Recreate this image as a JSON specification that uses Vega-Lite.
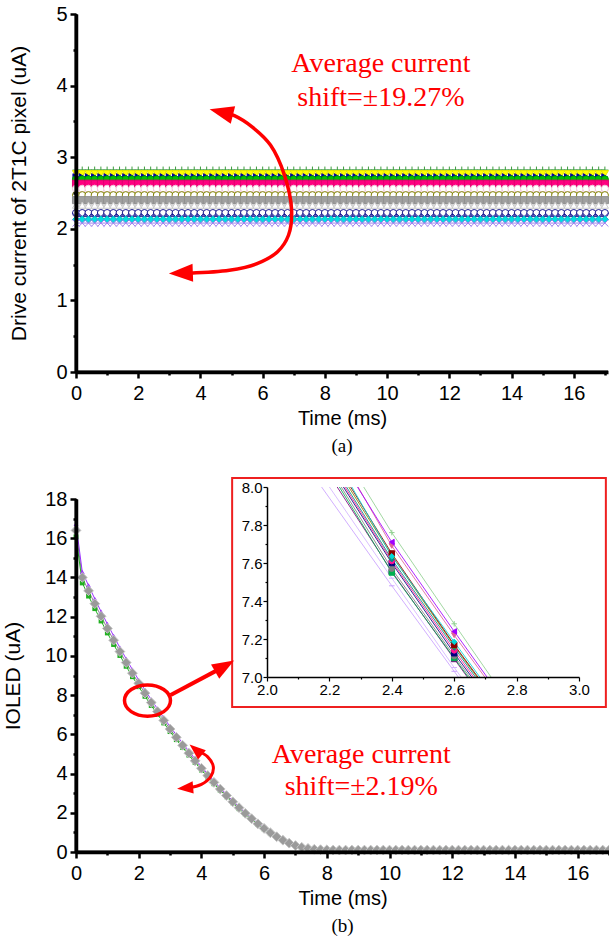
{
  "$schema": "https://vega.github.io/schema/vega-lite/v6.json",
  "background": "white",
  "padding": {"left": 2, "top": 4, "right": 0, "bottom": 0},
  "config": {"view": {"stroke": null}, "axis": {"domainColor": "#000000", "tickColor": "#000000", "domainWidth": 3.5, "tickWidth": 2.5}},
  "datasets": {
    "sa": [
      {"t":0,"a":2.82,"b":2.77,"c":2.72,"d":2.69,"e":2.63,"f":2.56,"g":2.47,"h":2.4,"i":2.33,"j":2.22,"k":2.17,"l":2.13,"m":2.08},
      {"t":0.2,"a":2.82,"b":2.77,"c":2.72,"d":2.69,"e":2.63,"f":2.56,"g":2.47,"h":2.4,"i":2.33,"j":2.22,"k":2.17,"l":2.13,"m":2.08},
      {"t":0.4,"a":2.82,"b":2.77,"c":2.72,"d":2.69,"e":2.63,"f":2.56,"g":2.47,"h":2.4,"i":2.33,"j":2.22,"k":2.17,"l":2.13,"m":2.08},
      {"t":0.6,"a":2.82,"b":2.77,"c":2.72,"d":2.69,"e":2.63,"f":2.56,"g":2.47,"h":2.4,"i":2.33,"j":2.22,"k":2.17,"l":2.13,"m":2.08},
      {"t":0.8,"a":2.82,"b":2.77,"c":2.72,"d":2.69,"e":2.63,"f":2.56,"g":2.47,"h":2.4,"i":2.33,"j":2.22,"k":2.17,"l":2.13,"m":2.08},
      {"t":1,"a":2.82,"b":2.77,"c":2.72,"d":2.69,"e":2.63,"f":2.56,"g":2.47,"h":2.4,"i":2.33,"j":2.22,"k":2.17,"l":2.13,"m":2.08},
      {"t":1.2,"a":2.82,"b":2.77,"c":2.72,"d":2.69,"e":2.63,"f":2.56,"g":2.47,"h":2.4,"i":2.33,"j":2.22,"k":2.17,"l":2.13,"m":2.08},
      {"t":1.4,"a":2.82,"b":2.77,"c":2.72,"d":2.69,"e":2.63,"f":2.56,"g":2.47,"h":2.4,"i":2.33,"j":2.22,"k":2.17,"l":2.13,"m":2.08},
      {"t":1.6,"a":2.82,"b":2.77,"c":2.72,"d":2.69,"e":2.63,"f":2.56,"g":2.47,"h":2.4,"i":2.33,"j":2.22,"k":2.17,"l":2.13,"m":2.08},
      {"t":1.8,"a":2.82,"b":2.77,"c":2.72,"d":2.69,"e":2.63,"f":2.56,"g":2.47,"h":2.4,"i":2.33,"j":2.22,"k":2.17,"l":2.13,"m":2.08},
      {"t":2,"a":2.82,"b":2.77,"c":2.72,"d":2.69,"e":2.63,"f":2.56,"g":2.47,"h":2.4,"i":2.33,"j":2.22,"k":2.17,"l":2.13,"m":2.08},
      {"t":2.2,"a":2.82,"b":2.77,"c":2.72,"d":2.69,"e":2.63,"f":2.56,"g":2.47,"h":2.4,"i":2.33,"j":2.22,"k":2.17,"l":2.13,"m":2.08},
      {"t":2.4,"a":2.82,"b":2.77,"c":2.72,"d":2.69,"e":2.63,"f":2.56,"g":2.47,"h":2.4,"i":2.33,"j":2.22,"k":2.17,"l":2.13,"m":2.08},
      {"t":2.6,"a":2.82,"b":2.77,"c":2.72,"d":2.69,"e":2.63,"f":2.56,"g":2.47,"h":2.4,"i":2.33,"j":2.22,"k":2.17,"l":2.13,"m":2.08},
      {"t":2.8,"a":2.82,"b":2.77,"c":2.72,"d":2.69,"e":2.63,"f":2.56,"g":2.47,"h":2.4,"i":2.33,"j":2.22,"k":2.17,"l":2.13,"m":2.08},
      {"t":3,"a":2.82,"b":2.77,"c":2.72,"d":2.69,"e":2.63,"f":2.56,"g":2.47,"h":2.4,"i":2.33,"j":2.22,"k":2.17,"l":2.13,"m":2.08},
      {"t":3.2,"a":2.82,"b":2.77,"c":2.72,"d":2.69,"e":2.63,"f":2.56,"g":2.47,"h":2.4,"i":2.33,"j":2.22,"k":2.17,"l":2.13,"m":2.08},
      {"t":3.4,"a":2.82,"b":2.77,"c":2.72,"d":2.69,"e":2.63,"f":2.56,"g":2.47,"h":2.4,"i":2.33,"j":2.22,"k":2.17,"l":2.13,"m":2.08},
      {"t":3.6,"a":2.82,"b":2.77,"c":2.72,"d":2.69,"e":2.63,"f":2.56,"g":2.47,"h":2.4,"i":2.33,"j":2.22,"k":2.17,"l":2.13,"m":2.08},
      {"t":3.8,"a":2.82,"b":2.77,"c":2.72,"d":2.69,"e":2.63,"f":2.56,"g":2.47,"h":2.4,"i":2.33,"j":2.22,"k":2.17,"l":2.13,"m":2.08},
      {"t":4,"a":2.82,"b":2.77,"c":2.72,"d":2.69,"e":2.63,"f":2.56,"g":2.47,"h":2.4,"i":2.33,"j":2.22,"k":2.17,"l":2.13,"m":2.08},
      {"t":4.2,"a":2.82,"b":2.77,"c":2.72,"d":2.69,"e":2.63,"f":2.56,"g":2.47,"h":2.4,"i":2.33,"j":2.22,"k":2.17,"l":2.13,"m":2.08},
      {"t":4.4,"a":2.82,"b":2.77,"c":2.72,"d":2.69,"e":2.63,"f":2.56,"g":2.47,"h":2.4,"i":2.33,"j":2.22,"k":2.17,"l":2.13,"m":2.08},
      {"t":4.6,"a":2.82,"b":2.77,"c":2.72,"d":2.69,"e":2.63,"f":2.56,"g":2.47,"h":2.4,"i":2.33,"j":2.22,"k":2.17,"l":2.13,"m":2.08},
      {"t":4.8,"a":2.82,"b":2.77,"c":2.72,"d":2.69,"e":2.63,"f":2.56,"g":2.47,"h":2.4,"i":2.33,"j":2.22,"k":2.17,"l":2.13,"m":2.08},
      {"t":5,"a":2.82,"b":2.77,"c":2.72,"d":2.69,"e":2.63,"f":2.56,"g":2.47,"h":2.4,"i":2.33,"j":2.22,"k":2.17,"l":2.13,"m":2.08},
      {"t":5.2,"a":2.82,"b":2.77,"c":2.72,"d":2.69,"e":2.63,"f":2.56,"g":2.47,"h":2.4,"i":2.33,"j":2.22,"k":2.17,"l":2.13,"m":2.08},
      {"t":5.4,"a":2.82,"b":2.77,"c":2.72,"d":2.69,"e":2.63,"f":2.56,"g":2.47,"h":2.4,"i":2.33,"j":2.22,"k":2.17,"l":2.13,"m":2.08},
      {"t":5.6,"a":2.82,"b":2.77,"c":2.72,"d":2.69,"e":2.63,"f":2.56,"g":2.47,"h":2.4,"i":2.33,"j":2.22,"k":2.17,"l":2.13,"m":2.08},
      {"t":5.8,"a":2.82,"b":2.77,"c":2.72,"d":2.69,"e":2.63,"f":2.56,"g":2.47,"h":2.4,"i":2.33,"j":2.22,"k":2.17,"l":2.13,"m":2.08},
      {"t":6,"a":2.82,"b":2.77,"c":2.72,"d":2.69,"e":2.63,"f":2.56,"g":2.47,"h":2.4,"i":2.33,"j":2.22,"k":2.17,"l":2.13,"m":2.08},
      {"t":6.2,"a":2.82,"b":2.77,"c":2.72,"d":2.69,"e":2.63,"f":2.56,"g":2.47,"h":2.4,"i":2.33,"j":2.22,"k":2.17,"l":2.13,"m":2.08},
      {"t":6.4,"a":2.82,"b":2.77,"c":2.72,"d":2.69,"e":2.63,"f":2.56,"g":2.47,"h":2.4,"i":2.33,"j":2.22,"k":2.17,"l":2.13,"m":2.08},
      {"t":6.6,"a":2.82,"b":2.77,"c":2.72,"d":2.69,"e":2.63,"f":2.56,"g":2.47,"h":2.4,"i":2.33,"j":2.22,"k":2.17,"l":2.13,"m":2.08},
      {"t":6.8,"a":2.82,"b":2.77,"c":2.72,"d":2.69,"e":2.63,"f":2.56,"g":2.47,"h":2.4,"i":2.33,"j":2.22,"k":2.17,"l":2.13,"m":2.08},
      {"t":7,"a":2.82,"b":2.77,"c":2.72,"d":2.69,"e":2.63,"f":2.56,"g":2.47,"h":2.4,"i":2.33,"j":2.22,"k":2.17,"l":2.13,"m":2.08},
      {"t":7.2,"a":2.82,"b":2.77,"c":2.72,"d":2.69,"e":2.63,"f":2.56,"g":2.47,"h":2.4,"i":2.33,"j":2.22,"k":2.17,"l":2.13,"m":2.08},
      {"t":7.4,"a":2.82,"b":2.77,"c":2.72,"d":2.69,"e":2.63,"f":2.56,"g":2.47,"h":2.4,"i":2.33,"j":2.22,"k":2.17,"l":2.13,"m":2.08},
      {"t":7.6,"a":2.82,"b":2.77,"c":2.72,"d":2.69,"e":2.63,"f":2.56,"g":2.47,"h":2.4,"i":2.33,"j":2.22,"k":2.17,"l":2.13,"m":2.08},
      {"t":7.8,"a":2.82,"b":2.77,"c":2.72,"d":2.69,"e":2.63,"f":2.56,"g":2.47,"h":2.4,"i":2.33,"j":2.22,"k":2.17,"l":2.13,"m":2.08},
      {"t":8,"a":2.82,"b":2.77,"c":2.72,"d":2.69,"e":2.63,"f":2.56,"g":2.47,"h":2.4,"i":2.33,"j":2.22,"k":2.17,"l":2.13,"m":2.08},
      {"t":8.2,"a":2.82,"b":2.77,"c":2.72,"d":2.69,"e":2.63,"f":2.56,"g":2.47,"h":2.4,"i":2.33,"j":2.22,"k":2.17,"l":2.13,"m":2.08},
      {"t":8.4,"a":2.82,"b":2.77,"c":2.72,"d":2.69,"e":2.63,"f":2.56,"g":2.47,"h":2.4,"i":2.33,"j":2.22,"k":2.17,"l":2.13,"m":2.08},
      {"t":8.6,"a":2.82,"b":2.77,"c":2.72,"d":2.69,"e":2.63,"f":2.56,"g":2.47,"h":2.4,"i":2.33,"j":2.22,"k":2.17,"l":2.13,"m":2.08},
      {"t":8.8,"a":2.82,"b":2.77,"c":2.72,"d":2.69,"e":2.63,"f":2.56,"g":2.47,"h":2.4,"i":2.33,"j":2.22,"k":2.17,"l":2.13,"m":2.08},
      {"t":9,"a":2.82,"b":2.77,"c":2.72,"d":2.69,"e":2.63,"f":2.56,"g":2.47,"h":2.4,"i":2.33,"j":2.22,"k":2.17,"l":2.13,"m":2.08},
      {"t":9.2,"a":2.82,"b":2.77,"c":2.72,"d":2.69,"e":2.63,"f":2.56,"g":2.47,"h":2.4,"i":2.33,"j":2.22,"k":2.17,"l":2.13,"m":2.08},
      {"t":9.4,"a":2.82,"b":2.77,"c":2.72,"d":2.69,"e":2.63,"f":2.56,"g":2.47,"h":2.4,"i":2.33,"j":2.22,"k":2.17,"l":2.13,"m":2.08},
      {"t":9.6,"a":2.82,"b":2.77,"c":2.72,"d":2.69,"e":2.63,"f":2.56,"g":2.47,"h":2.4,"i":2.33,"j":2.22,"k":2.17,"l":2.13,"m":2.08},
      {"t":9.8,"a":2.82,"b":2.77,"c":2.72,"d":2.69,"e":2.63,"f":2.56,"g":2.47,"h":2.4,"i":2.33,"j":2.22,"k":2.17,"l":2.13,"m":2.08},
      {"t":10,"a":2.82,"b":2.77,"c":2.72,"d":2.69,"e":2.63,"f":2.56,"g":2.47,"h":2.4,"i":2.33,"j":2.22,"k":2.17,"l":2.13,"m":2.08},
      {"t":10.2,"a":2.82,"b":2.77,"c":2.72,"d":2.69,"e":2.63,"f":2.56,"g":2.47,"h":2.4,"i":2.33,"j":2.22,"k":2.17,"l":2.13,"m":2.08},
      {"t":10.4,"a":2.82,"b":2.77,"c":2.72,"d":2.69,"e":2.63,"f":2.56,"g":2.47,"h":2.4,"i":2.33,"j":2.22,"k":2.17,"l":2.13,"m":2.08},
      {"t":10.6,"a":2.82,"b":2.77,"c":2.72,"d":2.69,"e":2.63,"f":2.56,"g":2.47,"h":2.4,"i":2.33,"j":2.22,"k":2.17,"l":2.13,"m":2.08},
      {"t":10.8,"a":2.82,"b":2.77,"c":2.72,"d":2.69,"e":2.63,"f":2.56,"g":2.47,"h":2.4,"i":2.33,"j":2.22,"k":2.17,"l":2.13,"m":2.08},
      {"t":11,"a":2.82,"b":2.77,"c":2.72,"d":2.69,"e":2.63,"f":2.56,"g":2.47,"h":2.4,"i":2.33,"j":2.22,"k":2.17,"l":2.13,"m":2.08},
      {"t":11.2,"a":2.82,"b":2.77,"c":2.72,"d":2.69,"e":2.63,"f":2.56,"g":2.47,"h":2.4,"i":2.33,"j":2.22,"k":2.17,"l":2.13,"m":2.08},
      {"t":11.4,"a":2.82,"b":2.77,"c":2.72,"d":2.69,"e":2.63,"f":2.56,"g":2.47,"h":2.4,"i":2.33,"j":2.22,"k":2.17,"l":2.13,"m":2.08},
      {"t":11.6,"a":2.82,"b":2.77,"c":2.72,"d":2.69,"e":2.63,"f":2.56,"g":2.47,"h":2.4,"i":2.33,"j":2.22,"k":2.17,"l":2.13,"m":2.08},
      {"t":11.8,"a":2.82,"b":2.77,"c":2.72,"d":2.69,"e":2.63,"f":2.56,"g":2.47,"h":2.4,"i":2.33,"j":2.22,"k":2.17,"l":2.13,"m":2.08},
      {"t":12,"a":2.82,"b":2.77,"c":2.72,"d":2.69,"e":2.63,"f":2.56,"g":2.47,"h":2.4,"i":2.33,"j":2.22,"k":2.17,"l":2.13,"m":2.08},
      {"t":12.2,"a":2.82,"b":2.77,"c":2.72,"d":2.69,"e":2.63,"f":2.56,"g":2.47,"h":2.4,"i":2.33,"j":2.22,"k":2.17,"l":2.13,"m":2.08},
      {"t":12.4,"a":2.82,"b":2.77,"c":2.72,"d":2.69,"e":2.63,"f":2.56,"g":2.47,"h":2.4,"i":2.33,"j":2.22,"k":2.17,"l":2.13,"m":2.08},
      {"t":12.6,"a":2.82,"b":2.77,"c":2.72,"d":2.69,"e":2.63,"f":2.56,"g":2.47,"h":2.4,"i":2.33,"j":2.22,"k":2.17,"l":2.13,"m":2.08},
      {"t":12.8,"a":2.82,"b":2.77,"c":2.72,"d":2.69,"e":2.63,"f":2.56,"g":2.47,"h":2.4,"i":2.33,"j":2.22,"k":2.17,"l":2.13,"m":2.08},
      {"t":13,"a":2.82,"b":2.77,"c":2.72,"d":2.69,"e":2.63,"f":2.56,"g":2.47,"h":2.4,"i":2.33,"j":2.22,"k":2.17,"l":2.13,"m":2.08},
      {"t":13.2,"a":2.82,"b":2.77,"c":2.72,"d":2.69,"e":2.63,"f":2.56,"g":2.47,"h":2.4,"i":2.33,"j":2.22,"k":2.17,"l":2.13,"m":2.08},
      {"t":13.4,"a":2.82,"b":2.77,"c":2.72,"d":2.69,"e":2.63,"f":2.56,"g":2.47,"h":2.4,"i":2.33,"j":2.22,"k":2.17,"l":2.13,"m":2.08},
      {"t":13.6,"a":2.82,"b":2.77,"c":2.72,"d":2.69,"e":2.63,"f":2.56,"g":2.47,"h":2.4,"i":2.33,"j":2.22,"k":2.17,"l":2.13,"m":2.08},
      {"t":13.8,"a":2.82,"b":2.77,"c":2.72,"d":2.69,"e":2.63,"f":2.56,"g":2.47,"h":2.4,"i":2.33,"j":2.22,"k":2.17,"l":2.13,"m":2.08},
      {"t":14,"a":2.82,"b":2.77,"c":2.72,"d":2.69,"e":2.63,"f":2.56,"g":2.47,"h":2.4,"i":2.33,"j":2.22,"k":2.17,"l":2.13,"m":2.08},
      {"t":14.2,"a":2.82,"b":2.77,"c":2.72,"d":2.69,"e":2.63,"f":2.56,"g":2.47,"h":2.4,"i":2.33,"j":2.22,"k":2.17,"l":2.13,"m":2.08},
      {"t":14.4,"a":2.82,"b":2.77,"c":2.72,"d":2.69,"e":2.63,"f":2.56,"g":2.47,"h":2.4,"i":2.33,"j":2.22,"k":2.17,"l":2.13,"m":2.08},
      {"t":14.6,"a":2.82,"b":2.77,"c":2.72,"d":2.69,"e":2.63,"f":2.56,"g":2.47,"h":2.4,"i":2.33,"j":2.22,"k":2.17,"l":2.13,"m":2.08},
      {"t":14.8,"a":2.82,"b":2.77,"c":2.72,"d":2.69,"e":2.63,"f":2.56,"g":2.47,"h":2.4,"i":2.33,"j":2.22,"k":2.17,"l":2.13,"m":2.08},
      {"t":15,"a":2.82,"b":2.77,"c":2.72,"d":2.69,"e":2.63,"f":2.56,"g":2.47,"h":2.4,"i":2.33,"j":2.22,"k":2.17,"l":2.13,"m":2.08},
      {"t":15.2,"a":2.82,"b":2.77,"c":2.72,"d":2.69,"e":2.63,"f":2.56,"g":2.47,"h":2.4,"i":2.33,"j":2.22,"k":2.17,"l":2.13,"m":2.08},
      {"t":15.4,"a":2.82,"b":2.77,"c":2.72,"d":2.69,"e":2.63,"f":2.56,"g":2.47,"h":2.4,"i":2.33,"j":2.22,"k":2.17,"l":2.13,"m":2.08},
      {"t":15.6,"a":2.82,"b":2.77,"c":2.72,"d":2.69,"e":2.63,"f":2.56,"g":2.47,"h":2.4,"i":2.33,"j":2.22,"k":2.17,"l":2.13,"m":2.08},
      {"t":15.8,"a":2.82,"b":2.77,"c":2.72,"d":2.69,"e":2.63,"f":2.56,"g":2.47,"h":2.4,"i":2.33,"j":2.22,"k":2.17,"l":2.13,"m":2.08},
      {"t":16,"a":2.82,"b":2.77,"c":2.72,"d":2.69,"e":2.63,"f":2.56,"g":2.47,"h":2.4,"i":2.33,"j":2.22,"k":2.17,"l":2.13,"m":2.08},
      {"t":16.2,"a":2.82,"b":2.77,"c":2.72,"d":2.69,"e":2.63,"f":2.56,"g":2.47,"h":2.4,"i":2.33,"j":2.22,"k":2.17,"l":2.13,"m":2.08},
      {"t":16.4,"a":2.82,"b":2.77,"c":2.72,"d":2.69,"e":2.63,"f":2.56,"g":2.47,"h":2.4,"i":2.33,"j":2.22,"k":2.17,"l":2.13,"m":2.08},
      {"t":16.6,"a":2.82,"b":2.77,"c":2.72,"d":2.69,"e":2.63,"f":2.56,"g":2.47,"h":2.4,"i":2.33,"j":2.22,"k":2.17,"l":2.13,"m":2.08},
      {"t":16.8,"a":2.82,"b":2.77,"c":2.72,"d":2.69,"e":2.63,"f":2.56,"g":2.47,"h":2.4,"i":2.33,"j":2.22,"k":2.17,"l":2.13,"m":2.08},
      {"t":17,"a":2.82,"b":2.77,"c":2.72,"d":2.69,"e":2.63,"f":2.56,"g":2.47,"h":2.4,"i":2.33,"j":2.22,"k":2.17,"l":2.13,"m":2.08}
    ],
    "sb": [
      {"t":0,"g":16.4,"hi":16.73,"lo":16.07},
      {"t":0.2,"g":14.0,"hi":14.28,"lo":13.72},
      {"t":0.4,"g":13.32,"hi":13.59,"lo":13.05},
      {"t":0.6,"g":12.66,"hi":12.91,"lo":12.41},
      {"t":0.8,"g":12.02,"hi":12.26,"lo":11.78},
      {"t":1,"g":11.4,"hi":11.63,"lo":11.17},
      {"t":1.2,"g":10.8,"hi":11.02,"lo":10.58},
      {"t":1.4,"g":10.22,"hi":10.42,"lo":10.02},
      {"t":1.6,"g":9.66,"hi":9.85,"lo":9.47},
      {"t":1.8,"g":9.12,"hi":9.3,"lo":8.94},
      {"t":2,"g":8.6,"hi":8.77,"lo":8.43},
      {"t":2.2,"g":8.1,"hi":8.26,"lo":7.94},
      {"t":2.4,"g":7.62,"hi":7.77,"lo":7.47},
      {"t":2.6,"g":7.16,"hi":7.3,"lo":7.02},
      {"t":2.8,"g":6.71,"hi":6.84,"lo":6.58},
      {"t":3,"g":6.27,"hi":6.4,"lo":6.14},
      {"t":3.2,"g":5.85,"hi":5.97,"lo":5.73},
      {"t":3.4,"g":5.44,"hi":5.55,"lo":5.33},
      {"t":3.6,"g":5.04,"hi":5.14,"lo":4.94},
      {"t":3.8,"g":4.65,"hi":4.74,"lo":4.56},
      {"t":4,"g":4.27,"hi":4.36,"lo":4.18},
      {"t":4.2,"g":3.9,"hi":3.98,"lo":3.82},
      {"t":4.4,"g":3.55,"hi":3.62,"lo":3.48},
      {"t":4.6,"g":3.21,"hi":3.27,"lo":3.15},
      {"t":4.8,"g":2.88,"hi":2.94,"lo":2.82},
      {"t":5,"g":2.56,"hi":2.61,"lo":2.51},
      {"t":5.2,"g":2.26,"hi":2.31,"lo":2.21},
      {"t":5.4,"g":1.97,"hi":2.01,"lo":1.93},
      {"t":5.6,"g":1.7,"hi":1.73,"lo":1.67},
      {"t":5.8,"g":1.44,"hi":1.47,"lo":1.41},
      {"t":6,"g":1.2,"hi":1.22,"lo":1.18},
      {"t":6.2,"g":0.98,"hi":1.0,"lo":0.96},
      {"t":6.4,"g":0.78,"hi":0.8,"lo":0.76},
      {"t":6.6,"g":0.6,"hi":0.61,"lo":0.59},
      {"t":6.8,"g":0.45,"hi":0.46,"lo":0.44},
      {"t":7,"g":0.33,"hi":0.34,"lo":0.32},
      {"t":7.2,"g":0.24,"hi":0.25,"lo":0.23},
      {"t":7.4,"g":0.18,"hi":0.19,"lo":0.17},
      {"t":7.6,"g":0.14,"hi":0.15,"lo":0.13},
      {"t":7.8,"g":0.12,"hi":0.13,"lo":0.11},
      {"t":8,"g":0.11,"hi":0.12,"lo":0.1},
      {"t":8.2,"g":0.1,"hi":0.11,"lo":0.09},
      {"t":8.4,"g":0.1,"hi":0.11,"lo":0.09},
      {"t":8.6,"g":0.1,"hi":0.11,"lo":0.09},
      {"t":8.8,"g":0.1,"hi":0.11,"lo":0.09},
      {"t":9,"g":0.1,"hi":0.11,"lo":0.09},
      {"t":9.2,"g":0.1,"hi":0.11,"lo":0.09},
      {"t":9.4,"g":0.1,"hi":0.11,"lo":0.09},
      {"t":9.6,"g":0.1,"hi":0.11,"lo":0.09},
      {"t":9.8,"g":0.1,"hi":0.11,"lo":0.09},
      {"t":10,"g":0.1,"hi":0.11,"lo":0.09},
      {"t":10.2,"g":0.1,"hi":0.11,"lo":0.09},
      {"t":10.4,"g":0.1,"hi":0.11,"lo":0.09},
      {"t":10.6,"g":0.1,"hi":0.11,"lo":0.09},
      {"t":10.8,"g":0.1,"hi":0.11,"lo":0.09},
      {"t":11,"g":0.1,"hi":0.11,"lo":0.09},
      {"t":11.2,"g":0.1,"hi":0.11,"lo":0.09},
      {"t":11.4,"g":0.1,"hi":0.11,"lo":0.09},
      {"t":11.6,"g":0.1,"hi":0.11,"lo":0.09},
      {"t":11.8,"g":0.1,"hi":0.11,"lo":0.09},
      {"t":12,"g":0.1,"hi":0.11,"lo":0.09},
      {"t":12.2,"g":0.1,"hi":0.11,"lo":0.09},
      {"t":12.4,"g":0.1,"hi":0.11,"lo":0.09},
      {"t":12.6,"g":0.1,"hi":0.11,"lo":0.09},
      {"t":12.8,"g":0.1,"hi":0.11,"lo":0.09},
      {"t":13,"g":0.1,"hi":0.11,"lo":0.09},
      {"t":13.2,"g":0.1,"hi":0.11,"lo":0.09},
      {"t":13.4,"g":0.1,"hi":0.11,"lo":0.09},
      {"t":13.6,"g":0.1,"hi":0.11,"lo":0.09},
      {"t":13.8,"g":0.1,"hi":0.11,"lo":0.09},
      {"t":14,"g":0.1,"hi":0.11,"lo":0.09},
      {"t":14.2,"g":0.1,"hi":0.11,"lo":0.09},
      {"t":14.4,"g":0.1,"hi":0.11,"lo":0.09},
      {"t":14.6,"g":0.1,"hi":0.11,"lo":0.09},
      {"t":14.8,"g":0.1,"hi":0.11,"lo":0.09},
      {"t":15,"g":0.1,"hi":0.11,"lo":0.09},
      {"t":15.2,"g":0.1,"hi":0.11,"lo":0.09},
      {"t":15.4,"g":0.1,"hi":0.11,"lo":0.09},
      {"t":15.6,"g":0.1,"hi":0.11,"lo":0.09},
      {"t":15.8,"g":0.1,"hi":0.11,"lo":0.09},
      {"t":16,"g":0.1,"hi":0.11,"lo":0.09},
      {"t":16.2,"g":0.1,"hi":0.11,"lo":0.09},
      {"t":16.4,"g":0.1,"hi":0.11,"lo":0.09},
      {"t":16.6,"g":0.1,"hi":0.11,"lo":0.09},
      {"t":16.8,"g":0.1,"hi":0.11,"lo":0.09},
      {"t":17,"g":0.1,"hi":0.11,"lo":0.09}
    ],
    "ins": [
      {"s":"L01","t":2.175,"v":8.0},{"s":"L01","t":2.4,"v":7.48},{"s":"L01","t":2.6,"v":7.03},{"s":"L01","t":2.613,"v":7.0},
      {"s":"L02","t":2.2,"v":8.0},{"s":"L02","t":2.4,"v":7.52},{"s":"L02","t":2.6,"v":7.05},{"s":"L02","t":2.622,"v":7.0},
      {"s":"L03","t":2.225,"v":8.0},{"s":"L03","t":2.4,"v":7.555},{"s":"L03","t":2.6,"v":7.095},{"s":"L03","t":2.642,"v":7.0},
      {"s":"L04","t":2.232,"v":8.0},{"s":"L04","t":2.4,"v":7.55},{"s":"L04","t":2.6,"v":7.1},{"s":"L04","t":2.645,"v":7.0},
      {"s":"L05","t":2.238,"v":8.0},{"s":"L05","t":2.4,"v":7.57},{"s":"L05","t":2.6,"v":7.11},{"s":"L05","t":2.65,"v":7.0},
      {"s":"L06","t":2.245,"v":8.0},{"s":"L06","t":2.4,"v":7.6},{"s":"L06","t":2.6,"v":7.125},{"s":"L06","t":2.656,"v":7.0},
      {"s":"L07","t":2.25,"v":8.0},{"s":"L07","t":2.4,"v":7.61},{"s":"L07","t":2.6,"v":7.14},{"s":"L07","t":2.662,"v":7.0},
      {"s":"L08","t":2.255,"v":8.0},{"s":"L08","t":2.4,"v":7.62},{"s":"L08","t":2.6,"v":7.155},{"s":"L08","t":2.668,"v":7.0},
      {"s":"L09","t":2.262,"v":8.0},{"s":"L09","t":2.4,"v":7.64},{"s":"L09","t":2.6,"v":7.165},{"s":"L09","t":2.673,"v":7.0},
      {"s":"L10","t":2.268,"v":8.0},{"s":"L10","t":2.4,"v":7.65},{"s":"L10","t":2.6,"v":7.17},{"s":"L10","t":2.676,"v":7.0},
      {"s":"L11","t":2.272,"v":8.0},{"s":"L11","t":2.4,"v":7.635},{"s":"L11","t":2.6,"v":7.185},{"s":"L11","t":2.682,"v":7.0},
      {"s":"L12","t":2.292,"v":8.0},{"s":"L12","t":2.4,"v":7.69},{"s":"L12","t":2.6,"v":7.22},{"s":"L12","t":2.698,"v":7.0},
      {"s":"L13","t":2.29,"v":8.0},{"s":"L13","t":2.4,"v":7.71},{"s":"L13","t":2.6,"v":7.24},{"s":"L13","t":2.705,"v":7.0},
      {"s":"L14","t":2.31,"v":8.0},{"s":"L14","t":2.4,"v":7.76},{"s":"L14","t":2.6,"v":7.28},{"s":"L14","t":2.718,"v":7.0}
    ]
  },
  "spacing": 21,
  "vconcat": [
    {
      "width": 532,
      "height": 358,
      "title": {"text": "(a)", "orient": "bottom", "font": "Liberation Serif", "fontSize": 19, "fontWeight": "normal", "offset": 9, "color": "black"},
      "encoding": {
        "x": {"field": "t", "type": "quantitative", "scale": {"domain": [0, 17.1], "nice": false, "zero": false},
          "axis": {"title": "Time (ms)", "zindex": 2, "values": [0,1,2,3,4,5,6,7,8,9,10,11,12,13,14,15,16,17], "labelExpr": "datum.value % 2 === 0 ? format(datum.value, 'd') : ''", "tickSize": {"condition": {"test": "datum.value % 2 !== 0", "value": 3}, "value": 6}, "labelFlush": false, "labelOverlap": false, "titlePadding": 5, "labelPadding": 5, "domainColor": "#000000", "domainWidth": 3.5, "tickColor": "#000000", "tickWidth": 2.5, "labelColor": "black", "titleColor": "black", "labelFont": "Liberation Sans", "titleFont": "Liberation Sans", "labelFontSize": 20, "titleFontSize": 20, "titleFontWeight": "normal", "grid": false}},
        "y": {"field": "v", "type": "quantitative", "scale": {"domain": [0, 5], "nice": false},
          "axis": {"title": "Drive current of 2T1C pixel (uA)", "zindex": 2, "values": [0,0.5,1,1.5,2,2.5,3,3.5,4,4.5,5], "labelExpr": "datum.value % 1 === 0 ? format(datum.value, 'd') : ''", "tickSize": {"condition": {"test": "datum.value % 1 !== 0", "value": 3}, "value": 6}, "labelOverlap": false, "titlePadding": 26, "labelPadding": 3, "domainColor": "#000000", "domainWidth": 3.5, "tickColor": "#000000", "tickWidth": 2.5, "labelColor": "black", "titleColor": "black", "labelFont": "Liberation Sans", "titleFont": "Liberation Sans", "labelFontSize": 20, "titleFontSize": 21, "titleFontWeight": "normal", "grid": false}}
      },
      "layer": [
        {
          "data": {"name": "sa"},
          "transform": [{"fold": ["a","b","c","d","e","f","g","h","i","j","k","l","m"], "as": ["s", "v"]}],
          "mark": {"type": "line", "strokeWidth": 1},
          "encoding": {
            "stroke": {"field": "s", "type": "nominal", "legend": null, "scale": {"domain": ["a","b","c","d","e","f","g","h","i","j","k","l","m"], "range": ["#3c9c3c","#e6e600","#000099","#00a000","#e00070","#f0c8d8","#808000","#909090","#c8c8c8","#1a1a8c","#2020a0","#00c8c8","#a080f0"]}}
          }
        },
        {
          "data": {"name": "sa"},
          "transform": [{"fold": ["a","b","c","d","e","f","g","h","i","j","k","l","m"], "as": ["s", "v"]}],
          "mark": {"type": "point", "filled": true, "size": 50, "strokeWidth": 1, "opacity": 1},
          "encoding": {
            "stroke": {"field": "s", "type": "nominal", "legend": null, "scale": {"domain": ["a","b","c","d","e","f","g","h","i","j","k","l","m"], "range": ["#3c9c3c","#e6e600","#000099","#00a000","#e00070","#f0c8d8","#808000","#909090","#c8c8c8","#1a1a8c","#2020a0","#00c8c8","#a080f0"]}},
            "fill": {"field": "s", "type": "nominal", "legend": null, "scale": {"domain": ["a","b","c","d","e","f","g","h","i","j","k","l","m"], "range": ["transparent","#ffff00","#000099","#00c000","#ff0080","#ffffff","#ffffff","#a0a0a0","#ffffff","#ffffff","transparent","#00e0e0","transparent"]}},
            "shape": {"field": "s", "type": "nominal", "legend": null, "scale": {"domain": ["a","b","c","d","e","f","g","h","i","j","k","l","m"], "range": ["M-1,0L1,0M0,-1L0,1","triangle-down","triangle-right","circle","square","circle","circle","square","triangle-up","circle","M-1,-1L1,1M-1,1L1,-1","diamond","M-1,-1L1,1M-1,1L1,-1"]}}
          }
        },
        {
          "data": {"values": [
            {"o":1,"t":4.77,"v":3.62},{"o":2,"t":5.09,"v":3.58},{"o":3,"t":5.67,"v":3.42},{"o":4,"t":6.25,"v":3.17},{"o":5,"t":6.7,"v":2.75},{"o":6,"t":6.93,"v":2.26},{"o":7,"t":6.83,"v":1.91},{"o":8,"t":6.48,"v":1.68},{"o":9,"t":5.8,"v":1.51},{"o":10,"t":4.93,"v":1.42},{"o":11,"t":3.65,"v":1.38}
          ]},
          "mark": {"type": "line", "color": "#ff0000", "strokeWidth": 3.5, "interpolate": "catmull-rom"},
          "encoding": {"order": {"field": "o", "type": "quantitative"}}
        },
        {
          "data": {"values": [{"t":4.67,"v":3.63,"ang":284},{"t":3.37,"v":1.38,"ang":268}]},
          "mark": {"type": "point", "shape": "M0,-1L0.75,1L-0.75,1Z", "filled": true, "color": "#ff0000", "size": 576, "opacity": 1},
          "encoding": {"angle": {"field": "ang", "type": "quantitative", "scale": null}}
        },
        {
          "data": {"values": [{"t":9.8,"v":4.3,"txt":"Average current"},{"t":9.8,"v":3.82,"txt":"shift=±19.27%"}]},
          "mark": {"type": "text", "font": "Liberation Serif", "fontSize": 28, "color": "#ff0000", "align": "center", "baseline": "middle"},
          "encoding": {"text": {"field": "txt"}}
        },
        {
          "data": {"values": [{"t":0,"v":0,"v2":5}]},
          "mark": {"type": "rule", "color": "#000000", "strokeWidth": 3},
          "encoding": {"y2": {"field": "v2"}}
        },
        {
          "data": {"values": [{"t":0,"t2":17.1,"v":0}]},
          "mark": {"type": "rule", "color": "#000000", "strokeWidth": 3},
          "encoding": {"x2": {"field": "t2"}}
        }
      ]
    },
    {
      "width": 533,
      "height": 353,
      "title": {"text": "(b)", "orient": "bottom", "font": "Liberation Serif", "fontSize": 19, "fontWeight": "normal", "offset": 9, "color": "black"},
      "resolve": {"scale": {"x": "independent", "y": "independent", "fill": "independent", "stroke": "independent", "shape": "independent"}, "axis": {"x": "independent", "y": "independent"}},
      "layer": [
        {
          "encoding": {
            "x": {"field": "t", "type": "quantitative", "scale": {"domain": [0, 17], "nice": false, "zero": false},
              "axis": {"title": "Time (ms)", "orient": "bottom", "zindex": 2, "values": [0,1,2,3,4,5,6,7,8,9,10,11,12,13,14,15,16,17], "labelExpr": "datum.value % 2 === 0 ? format(datum.value, 'd') : ''", "tickSize": {"condition": {"test": "datum.value % 2 !== 0", "value": 3}, "value": 6}, "labelFlush": false, "labelOverlap": false, "titlePadding": 5, "labelPadding": 5, "domainColor": "#000000", "domainWidth": 3.5, "tickColor": "#000000", "tickWidth": 2.5, "labelColor": "black", "titleColor": "black", "labelFont": "Liberation Sans", "titleFont": "Liberation Sans", "labelFontSize": 20, "titleFontSize": 20, "titleFontWeight": "normal", "grid": false}},
            "y": {"field": "v", "type": "quantitative", "scale": {"domain": [0, 18], "nice": false},
              "axis": {"title": "IOLED (uA)", "orient": "left", "zindex": 2, "values": [0,1,2,3,4,5,6,7,8,9,10,11,12,13,14,15,16,17,18], "labelExpr": "datum.value % 2 === 0 ? format(datum.value, 'd') : ''", "tickSize": {"condition": {"test": "datum.value % 2 !== 0", "value": 3}, "value": 6}, "labelOverlap": false, "titlePadding": 21, "labelPadding": 3, "domainColor": "#000000", "domainWidth": 3.5, "tickColor": "#000000", "tickWidth": 2.5, "labelColor": "black", "titleColor": "black", "labelFont": "Liberation Sans", "titleFont": "Liberation Sans", "labelFontSize": 20, "titleFontSize": 21, "titleFontWeight": "normal", "grid": false}}
          },
          "layer": [
            {
              "data": {"values": [{"t":4.98,"t2":16.9,"v":7.39,"v2":19.07}]},
              "mark": {"type": "rect", "fill": "white", "stroke": "#ee2020", "strokeWidth": 2},
              "encoding": {"x2": {"field": "t2"}, "y2": {"field": "v2"}}
            },
            {
              "data": {"name": "sb"},
              "transform": [{"fold": ["g", "hi", "lo"], "as": ["s", "v"]}],
              "mark": {"type": "line", "strokeWidth": 1},
              "encoding": {"stroke": {"field": "s", "type": "nominal", "legend": null, "scale": {"domain": ["g","hi","lo"], "range": ["#888888","#9b30ff","#20b020"]}}}
            },
            {
              "data": {"name": "sb"},
              "transform": [{"fold": ["hi", "lo"], "as": ["s", "v"]}],
              "mark": {"type": "point", "filled": true, "size": 24, "opacity": 1},
              "encoding": {
                "fill": {"field": "s", "type": "nominal", "legend": null, "scale": {"domain": ["hi","lo"], "range": ["#9b30ff","#20b020"]}},
                "shape": {"field": "s", "type": "nominal", "legend": null, "scale": {"domain": ["hi","lo"], "range": ["triangle-up","square"]}}
              }
            },
            {
              "data": {"name": "sb"},
              "mark": {"type": "point", "filled": true, "shape": "diamond", "size": 95, "fill": "#9a9a9a", "stroke": "#c4c4c4", "strokeWidth": 1, "opacity": 1},
              "encoding": {"y": {"field": "g", "type": "quantitative"}}
            },
            {
              "data": {"values": [{"t":2.28,"v":7.72}]},
              "mark": {"type": "point", "shape": "M-1,0A1,0.68,0,1,0,1,0A1,0.68,0,1,0,-1,0Z", "size": 2116, "filled": false, "stroke": "#ff0000", "strokeWidth": 3.5, "opacity": 1}
            },
            {
              "data": {"values": [{"o":1,"t":3.02,"v":8.0},{"o":2,"t":4.6,"v":9.35}]},
              "mark": {"type": "line", "color": "#ff0000", "strokeWidth": 4},
              "encoding": {"order": {"field": "o", "type": "quantitative"}}
            },
            {
              "data": {"values": [{"o":1,"t":3.9,"v":5.15},{"o":2,"t":4.2,"v":4.85},{"o":3,"t":4.38,"v":4.35},{"o":4,"t":4.3,"v":3.85},{"o":5,"t":4.0,"v":3.45},{"o":6,"t":3.6,"v":3.28}]},
              "mark": {"type": "line", "color": "#ff0000", "strokeWidth": 3, "interpolate": "catmull-rom"},
              "encoding": {"order": {"field": "o", "type": "quantitative"}}
            },
            {
              "data": {"values": [{"t":4.74,"v":9.48,"ang":60,"sz":480},{"t":3.82,"v":5.22,"ang":310,"sz":260},{"t":3.48,"v":3.26,"ang":265,"sz":260}]},
              "mark": {"type": "point", "shape": "M0,-1L0.75,1L-0.75,1Z", "filled": true, "color": "#ff0000", "opacity": 1},
              "encoding": {"angle": {"field": "ang", "type": "quantitative", "scale": null}, "size": {"field": "sz", "type": "quantitative", "scale": null, "legend": null}}
            },
            {
              "data": {"values": [{"t":9.1,"v":4.95,"txt":"Average current"},{"t":9.1,"v":3.3,"txt":"shift=±2.19%"}]},
              "mark": {"type": "text", "font": "Liberation Serif", "fontSize": 28, "color": "#ff0000", "align": "center", "baseline": "middle"},
              "encoding": {"text": {"field": "txt"}}
            },
            {
              "data": {"values": [{"t":0,"v":0,"v2":18}]},
              "mark": {"type": "rule", "color": "#000000", "strokeWidth": 3},
              "encoding": {"y2": {"field": "v2"}}
            },
            {
              "data": {"values": [{"t":0,"t2":17,"v":0}]},
              "mark": {"type": "rule", "color": "#000000", "strokeWidth": 3},
              "encoding": {"x2": {"field": "t2"}}
            }
          ]
        },
        {
          "data": {"name": "ins"},
          "encoding": {
            "x": {"field": "t", "type": "quantitative", "scale": {"domain": [2, 3], "range": [191, 503], "nice": false, "zero": false},
              "axis": {"title": null, "orient": "bottom", "offset": -175, "zindex": 1, "values": [2,2.1,2.2,2.3,2.4,2.5,2.6,2.7,2.8,2.9,3], "labelExpr": "round(datum.value*10) % 2 === 0 ? format(datum.value, '.1f') : ''", "tickSize": {"condition": {"test": "round(datum.value*10) % 2 !== 0", "value": 2}, "value": 4}, "labelFont": "Liberation Sans", "labelFontSize": 15, "labelColor": "black", "domainColor": "black", "domainWidth": 1.5, "tickColor": "black", "tickWidth": 1.2, "labelPadding": 1, "labelFlush": false, "labelOverlap": false, "grid": false}},
            "y": {"field": "v", "type": "quantitative", "scale": {"domain": [7, 8], "range": [178, -12], "nice": false, "zero": false},
              "axis": {"title": null, "orient": "left", "offset": -191, "zindex": 1, "values": [7,7.1,7.2,7.3,7.4,7.5,7.6,7.7,7.8,7.9,8], "labelExpr": "round(datum.value*10) % 2 === 0 ? format(datum.value, '.1f') : ''", "tickSize": {"condition": {"test": "round(datum.value*10) % 2 !== 0", "value": 2}, "value": 4}, "labelFont": "Liberation Sans", "labelFontSize": 15, "labelColor": "black", "domainColor": "black", "domainWidth": 1.5, "tickColor": "black", "tickWidth": 1.2, "labelPadding": 1, "labelOverlap": false, "grid": false}}
          },
          "layer": [
            {
              "mark": {"type": "line", "strokeWidth": 1, "opacity": 0.85},
              "encoding": {"stroke": {"field": "s", "type": "nominal", "legend": null, "scale": {"domain": ["L01","L02","L03","L04","L05","L06","L07","L08","L09","L10","L11","L12","L13","L14"], "range": ["#c9a0ff","#d4b4ff","#800080","#00b050","#808080","#000080","#ff1493","#008b8b","#808000","#8b0000","#00d8d8","#e0609a","#a000ff","#90d090"]}}}
            },
            {
              "transform": [{"filter": "datum.t == 2.4 || datum.t == 2.6"}],
              "mark": {"type": "point", "filled": true, "size": 30, "strokeWidth": 1, "opacity": 1},
              "encoding": {
                "stroke": {"field": "s", "type": "nominal", "legend": null, "scale": {"domain": ["L01","L02","L03","L04","L05","L06","L07","L08","L09","L10","L11","L12","L13","L14"], "range": ["#c9a0ff","#d4b4ff","#800080","#00b050","#808080","#000080","#ff1493","#008b8b","#808000","#8b0000","#00d8d8","#e0609a","#a000ff","#90d090"]}},
                "fill": {"field": "s", "type": "nominal", "legend": null, "scale": {"domain": ["L01","L02","L03","L04","L05","L06","L07","L08","L09","L10","L11","L12","L13","L14"], "range": ["transparent","transparent","#800080","#00b050","#808080","#000080","#ff1493","#008b8b","#808000","#8b0000","#00d8d8","#e0609a","#a000ff","transparent"]}},
                "shape": {"field": "s", "type": "nominal", "legend": null, "scale": {"domain": ["L01","L02","L03","L04","L05","L06","L07","L08","L09","L10","L11","L12","L13","L14"], "range": ["M-1,0L1,0","M-1,0L1,0","square","square","circle","square","circle","diamond","triangle-up","square","diamond","triangle-down","triangle-left","M-1,0L1,0M0,-1L0,1"]}}
              }
            }
          ]
        }
      ]
    }
  ]
}
